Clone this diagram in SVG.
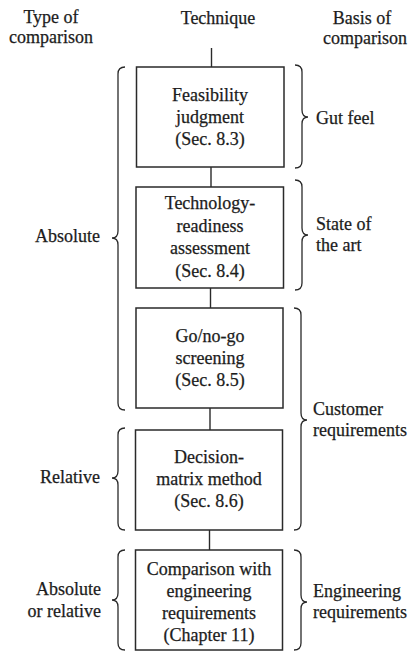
<svg xmlns="http://www.w3.org/2000/svg" width="411" height="653" viewBox="0 0 411 653">
  <style>
    text { font-family: "Liberation Serif", "DejaVu Serif", serif; font-size: 18px; fill: #1c1c1c; stroke: #1c1c1c; stroke-width: 0.25; }
    .c { text-anchor: middle; }
    .r { text-anchor: end; }
    .box { fill: #ffffff; stroke: #2a2a2a; stroke-width: 1.5; }
    .link { stroke: #2a2a2a; stroke-width: 1.4; fill: none; }
    .brace { stroke: #2a2a2a; stroke-width: 1.3; fill: none; }
  </style>
  <rect width="411" height="653" fill="#ffffff"/>

  <g font-family="Liberation Serif, DejaVu Serif, serif">
  <!-- column headings -->
  <g id="headings">
    <text class="c" x="51" y="23">Type of</text>
    <text class="c" x="51" y="43">comparison</text>
    <text class="c" x="218" y="24">Technique</text>
    <text class="c" x="362" y="24">Basis of</text>
    <text class="c" x="365" y="44">comparison</text>
  </g>

  <!-- vertical links between techniques -->
  <g id="connectors">
    <line class="link" x1="211.5" y1="48" x2="211.5" y2="67"/>
    <line class="link" x1="211" y1="167" x2="211" y2="187"/>
    <line class="link" x1="210.5" y1="288" x2="210.5" y2="308"/>
    <line class="link" x1="210" y1="408" x2="210" y2="430"/>
    <line class="link" x1="209.5" y1="530" x2="209.5" y2="550"/>
  </g>

  <!-- techniques -->
  <g id="feasibility">
    <rect class="box" x="136.5" y="67" width="147.5" height="100"/>
    <text class="c" x="210" y="101">Feasibility</text>
    <text class="c" x="210" y="123">judgment</text>
    <text class="c" x="210" y="145">(Sec. 8.3)</text>
  </g>
  <g id="technology-readiness">
    <rect class="box" x="136" y="187" width="147.5" height="101"/>
    <text class="c" x="210" y="209">Technology-</text>
    <text class="c" x="210" y="231.5">readiness</text>
    <text class="c" x="210" y="254">assessment</text>
    <text class="c" x="210" y="276.5">(Sec. 8.4)</text>
  </g>
  <g id="go-no-go">
    <rect class="box" x="136" y="308" width="147" height="100"/>
    <text class="c" x="210" y="341.5">Go/no-go</text>
    <text class="c" x="210" y="363.5">screening</text>
    <text class="c" x="210" y="386">(Sec. 8.5)</text>
  </g>
  <g id="decision-matrix">
    <rect class="box" x="135.5" y="430" width="147" height="100"/>
    <text class="c" x="209" y="463">Decision-</text>
    <text class="c" x="209" y="485">matrix method</text>
    <text class="c" x="209" y="507">(Sec. 8.6)</text>
  </g>
  <g id="engineering-comparison">
    <rect class="box" x="135.5" y="550" width="147" height="100"/>
    <text class="c" x="209" y="575">Comparison with</text>
    <text class="c" x="209" y="597">engineering</text>
    <text class="c" x="209" y="619">requirements</text>
    <text class="c" x="209" y="641">(Chapter 11)</text>
  </g>

  <!-- type of comparison (left braces) -->
  <g id="type-absolute">
    <path class="brace" d="M125,67 Q118,67 118,74 L118,231 Q118,238 112,238 Q118,238 118,245 L118,403 Q118,410 125,410"/>
    <text class="r" x="100" y="242">Absolute</text>
  </g>
  <g id="type-relative">
    <path class="brace" d="M125,428 Q118,428 118,435 L118,471 Q118,478 112,478 Q118,478 118,485 L118,523 Q118,530 125,530"/>
    <text class="r" x="100" y="483">Relative</text>
  </g>
  <g id="type-either">
    <path class="brace" d="M125,550 Q118,550 118,557 L118,593 Q118,600 112,600 Q118,600 118,607 L118,643 Q118,650 125,650"/>
    <text class="r" x="101" y="595">Absolute</text>
    <text class="r" x="101" y="617">or relative</text>
  </g>

  <!-- basis of comparison (right braces) -->
  <g id="basis-gut-feel">
    <path class="brace" d="M295,65 Q302,65 302,72 L302,110 Q302,117 308,117 Q302,117 302,124 L302,161 Q302,168 295,168"/>
    <text x="316" y="124">Gut feel</text>
  </g>
  <g id="basis-state-of-art">
    <path class="brace" d="M295,180 Q302,180 302,187 L302,228 Q302,235 308,235 Q302,235 302,242 L302,283 Q302,290 295,290"/>
    <text x="316" y="230">State of</text>
    <text x="316" y="251">the art</text>
  </g>
  <g id="basis-customer">
    <path class="brace" d="M294,308 Q301,308 301,315 L301,413 Q301,420 307,420 Q301,420 301,427 L301,523 Q301,530 294,530"/>
    <text x="313" y="415">Customer</text>
    <text x="313" y="436">requirements</text>
  </g>
  <g id="basis-engineering">
    <path class="brace" d="M294,550 Q301,550 301,557 L301,595 Q301,602 307,602 Q301,602 301,609 L301,643 Q301,650 294,650"/>
    <text x="313" y="597">Engineering</text>
    <text x="313" y="618">requirements</text>
  </g>
  </g>
</svg>
